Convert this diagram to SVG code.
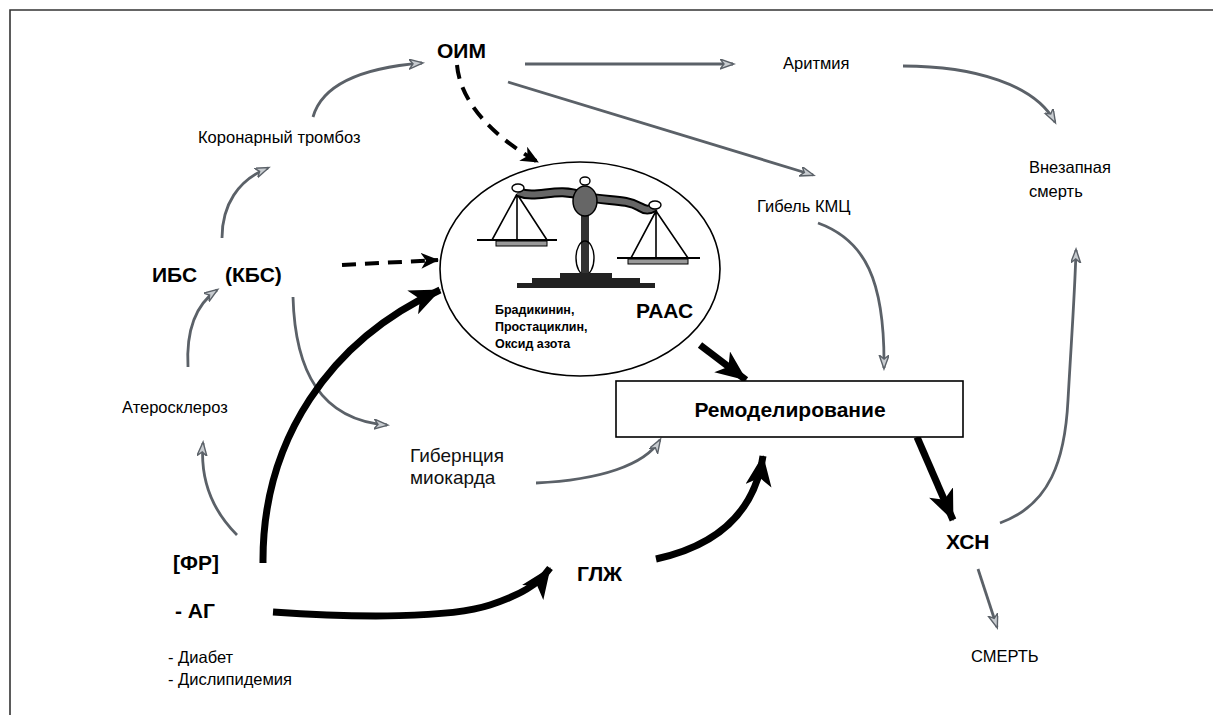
<svg xmlns="http://www.w3.org/2000/svg" width="1213" height="715" viewBox="0 0 1213 715">
<defs>
<style>
.b{font-family:"Liberation Sans",Arial,sans-serif;font-weight:bold;font-size:21px;fill:#000}
.n{font-family:"Liberation Sans Narrow","Liberation Sans",Arial,sans-serif;font-size:16.5px;fill:#000}
.r{font-family:"Liberation Sans",Arial,sans-serif;font-size:19px;fill:#111}
.s{font-family:"Liberation Sans",Arial,sans-serif;font-weight:bold;font-size:12.5px;fill:#000}
.g{fill:none;stroke:#5b6168;stroke-width:2.8;marker-end:url(#ga)}
.k{fill:none;stroke:#000;stroke-width:7;marker-end:url(#ka)}
.d{fill:none;stroke:#000;stroke-width:4;stroke-dasharray:14 9;marker-end:url(#da)}
</style>
<marker id="ga" markerUnits="userSpaceOnUse" markerWidth="16" markerHeight="12" refX="13" refY="5" orient="auto">
<path d="M0,0 L14,5 L0,10 L4,5 z" fill="#c8ccd0" stroke="#5b6168" stroke-width="1.4"/>
</marker>
<marker id="ka" markerUnits="userSpaceOnUse" markerWidth="34" markerHeight="28" refX="30" refY="13" orient="auto">
<path d="M0,0 L31,13 L0,26 L8,13 z" fill="#000"/>
</marker>
<marker id="da" markerUnits="userSpaceOnUse" markerWidth="20" markerHeight="18" refX="17" refY="8" orient="auto">
<path d="M0,0 L18,8 L0,16 L5,8 z" fill="#000"/>
</marker>
</defs>
<rect width="1213" height="715" fill="#fff"/>
<path d="M10,715 L10,10 L1213,10" fill="none" stroke="#333" stroke-width="1.6"/>

<g id="connectors">
<path class="g" d="M237,535 C212,510 200,480 203,443"/>
<path class="g" d="M188,367 C186,330 195,305 217,290"/>
<path class="g" d="M222,238 C222,205 238,180 268,168"/>
<path class="g" d="M313,117 C322,85 360,68 422,63"/>
<path class="g" d="M525,64 L733,64"/>
<path class="g" d="M508,82 L813,175"/>
<path class="g" d="M903,66 C975,66 1035,85 1055,122"/>
<path class="g" d="M818,223 C865,240 885,280 884,368"/>
<path class="g" d="M1000,523 C1050,505 1065,460 1068,400 C1072,330 1075,290 1076,250"/>
<path class="g" d="M978,569 L997,627"/>
<path class="g" d="M293,297 C295,370 320,420 387,425"/>
<path class="g" d="M536,483 C600,480 645,465 660,440"/>
<path class="d" d="M457,65 C460,100 490,135 538,162"/>
<path class="d" d="M342,265 L438,260"/>
<path class="k" d="M263,563 C262,440 330,340 440,290"/>
<path class="k" d="M273,612 C360,618 450,618 490,605 C520,595 538,585 550,568"/>
<path class="k" d="M656,559 C720,545 755,510 763,456"/>
<path class="k" d="M700,345 L746,380"/>
<path class="k" d="M917,437 L953,520"/>
</g>

<g id="n-balance">
<ellipse cx="580" cy="269" rx="140" ry="107" fill="none" stroke="#000" stroke-width="1.6"/>
<g id="scale">
<path d="M517,194 L492,240 M517,194 L547,240 M517,194 L517,240" stroke="#000" stroke-width="1.6" fill="none"/>
<line x1="477" y1="240" x2="557" y2="240" stroke="#000" stroke-width="2.2"/>
<rect x="496" y="241" width="51" height="5" fill="#999" stroke="#000" stroke-width="1"/>
<path d="M656,211 L631,258 M656,211 L688,258 M656,211 L656,258" stroke="#000" stroke-width="1.6" fill="none"/>
<line x1="617" y1="258" x2="700" y2="258" stroke="#000" stroke-width="2.2"/>
<rect x="628" y="259" width="60" height="5" fill="#999" stroke="#000" stroke-width="1"/>
<path d="M518,192 C538,200 555,186 583,196 C605,202 625,198 640,207 C646,211 650,210 655,207" stroke="#000" stroke-width="10" fill="none"/>
<path d="M518,192 C538,200 555,186 583,196 C605,202 625,198 640,207 C646,211 650,210 655,207" stroke="#666" stroke-width="6" fill="none"/>
<rect x="581" y="205" width="8" height="72" fill="#333"/>
<ellipse cx="585" cy="258" rx="9" ry="17" fill="none" stroke="#000" stroke-width="1.4"/>
<ellipse cx="585" cy="201" rx="12" ry="15" fill="#666" stroke="#000" stroke-width="1.5"/>
<ellipse cx="585" cy="181" rx="5" ry="4" fill="#fff" stroke="#000" stroke-width="1.4"/>
<ellipse cx="518" cy="188" rx="6" ry="4" fill="#fff" stroke="#000" stroke-width="1.4"/>
<ellipse cx="655" cy="205" rx="6" ry="4" fill="#fff" stroke="#000" stroke-width="1.4"/>
<rect x="560" y="273" width="52" height="5" fill="#222"/>
<rect x="532" y="278" width="108" height="5" fill="#222"/>
<rect x="517" y="283" width="138" height="5" fill="#222"/>
</g>
<text class="s" x="495" y="314">Брадикинин,</text>
<text class="s" x="495" y="331">Простациклин,</text>
<text class="s" x="495" y="348">Оксид азота</text>
<text class="b" x="636" y="318">РААС</text>
</g>

<g id="n-oim"><text class="b" x="437" y="58">ОИМ</text></g>
<g id="n-arrhythmia"><text class="n" x="783" y="69">Аритмия</text></g>
<g id="n-thrombosis"><text class="n" x="198" y="143">Коронарный тромбоз</text></g>
<g id="n-kmc"><text class="n" x="757" y="212">Гибель КМЦ</text></g>
<g id="n-sudden"><text class="n" x="1029" y="173">Внезапная</text><text class="n" x="1029" y="197">смерть</text></g>
<g id="n-ibs"><text class="b" x="152" y="282">ИБС</text><text class="b" x="225" y="282">(КБС)</text></g>
<g id="n-athero"><text class="n" x="122" y="413">Атеросклероз</text></g>
<g id="n-hibern"><text class="r" x="410" y="462">Гибернция</text><text class="r" x="410" y="484">миокарда</text></g>
<g id="n-remodel">
<rect x="616" y="381" width="347" height="56" fill="#fff" stroke="#000" stroke-width="1.6"/>
<text class="b" x="790" y="417" font-size="17" text-anchor="middle">Ремоделирование</text>
</g>
<g id="n-fr"><text class="b" x="173" y="570">[ФР]</text></g>
<g id="n-ag"><text class="b" x="175" y="618">- АГ</text></g>
<g id="n-risk"><text class="n" x="168" y="663">- Диабет</text><text class="n" x="168" y="685">- Дислипидемия</text></g>
<g id="n-glzh"><text class="b" x="577" y="581">ГЛЖ</text></g>
<g id="n-hsn"><text class="b" x="946" y="549">ХСН</text></g>
<g id="n-death"><text class="n" x="971" y="662">СМЕРТЬ</text></g>
</svg>
